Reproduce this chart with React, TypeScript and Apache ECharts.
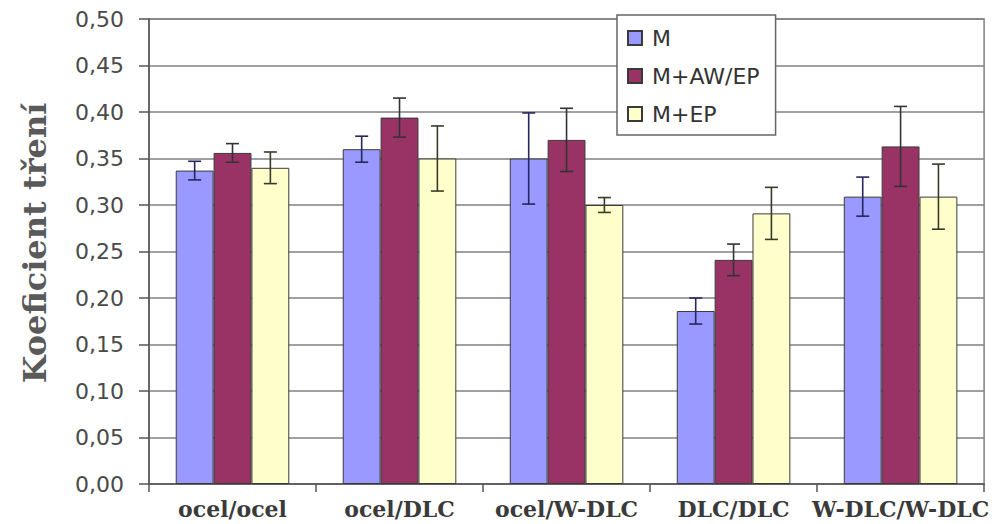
import React, { useEffect, useRef } from "react";
import * as echarts from "echarts";

const categories = ["ocel/ocel", "ocel/DLC", "ocel/W-DLC", "DLC/DLC", "W-DLC/W-DLC"];
const seriesNames = ["M", "M+AW/EP", "M+EP"];
const valuesM = [0.337, 0.360, 0.350, 0.186, 0.309];
const valuesAW = [0.356, 0.394, 0.370, 0.241, 0.363];
const valuesEP = [0.340, 0.350, 0.300, 0.291, 0.309];
const errM = [0.010, 0.014, 0.049, 0.014, 0.021];
const errAW = [0.010, 0.021, 0.034, 0.017, 0.043];
const errEP = [0.017, 0.035, 0.008, 0.028, 0.035];
const yTicks = [0, 0.05, 0.1, 0.15, 0.2, 0.25, 0.3, 0.35, 0.4, 0.45, 0.5];

const colors = ["#9999FF", "#993366", "#FFFFCC"];
const errColors = ["#262660", "#333333", "#3a3a2a"];
const GAP = 0.32;

export default function App() {
  const ref = useRef<HTMLDivElement>(null);
  useEffect(() => {
    if (!ref.current) return;
    const chart = echarts.init(ref.current, null, { renderer: "svg" });
    const vals = [valuesM, valuesAW, valuesEP];
    const errs = [errM, errAW, errEP];
    const barSeries = seriesNames.map((name, i) => ({
      name,
      type: "bar",
      data: vals[i],
      barGap: "0%",
      barCategoryGap: GAP * 100 + "%",
      itemStyle: { color: colors[i], borderColor: "#3a3a3a", borderWidth: 1 },
    }));
    const errSeries = seriesNames.map((name, i) => ({
      name: "err-" + name,
      type: "custom",
      z: 5,
      encode: { x: 0, y: 1 },
      data: vals[i].map((v, k) => [k, v, errs[i][k]]),
      renderItem: (params: any, api: any) => {
        const cat = api.value(0);
        const v = api.value(1);
        const e = api.value(2);
        const c = api.coord([cat, v]);
        const catW = api.size([1, 0])[0];
        const barW = (catW * (1 - GAP)) / 3;
        const x = c[0] + (i - 1) * barW;
        const top = api.coord([cat, v + e])[1];
        const bot = api.coord([cat, v - e])[1];
        const half = 6.5;
        const st = { stroke: errColors[i], lineWidth: 1.6 };
        return {
          type: "group",
          children: [
            { type: "line", shape: { x1: x, y1: top, x2: x, y2: bot }, style: st },
            { type: "line", shape: { x1: x - half, y1: top, x2: x + half, y2: top }, style: st },
            { type: "line", shape: { x1: x - half, y1: bot, x2: x + half, y2: bot }, style: st },
          ],
        };
      },
    }));
    chart.setOption({
      animation: false,
      backgroundColor: "#ffffff",
      grid: {
        left: 149,
        right: 5,
        top: 19,
        bottom: 40,
        show: true,
        borderColor: "#808080",
        borderWidth: 1.5,
      },
      legend: {
        data: seriesNames,
        orient: "vertical",
        left: 617,
        top: 15,
        backgroundColor: "#ffffff",
        borderColor: "#666666",
        borderWidth: 1.5,
        padding: [12, 16, 10, 10],
        itemGap: 16,
        itemWidth: 14,
        itemHeight: 14,
        icon: "rect",
        textStyle: { fontFamily: "DejaVu Sans", fontSize: 22, color: "#333333", padding: [0, 0, 0, 5] },
      },
      xAxis: {
        type: "category",
        data: categories,
        axisLine: { lineStyle: { color: "#555555", width: 1.5 } },
        axisTick: { show: true, length: 8, lineStyle: { color: "#555555", width: 1.5 } },
        axisLabel: {
          interval: 0,
          margin: 14,
          fontFamily: "DejaVu Serif",
          fontWeight: "bold",
          fontSize: 22,
          color: "#3a3a3a",
        },
      },
      yAxis: {
        type: "value",
        min: yTicks[0],
        max: yTicks[yTicks.length - 1],
        interval: 0.05,
        axisLine: { show: true, lineStyle: { color: "#555555", width: 1.5 } },
        axisTick: { show: true, length: 10, lineStyle: { color: "#555555", width: 1.5 } },
        axisLabel: {
          margin: 25,
          fontFamily: "DejaVu Sans",
          fontSize: 22,
          color: "#4a4a4a",
          formatter: (v: number) => v.toFixed(2).replace(".", ","),
        },
        splitLine: { lineStyle: { color: "#808080", width: 1.5 } },
      },
      graphic: [
        {
          type: "text",
          x: 35,
          y: 243,
          rotation: Math.PI / 2,
          style: {
            text: "Koeficient tření",
            fontFamily: "DejaVu Serif",
            fontWeight: "bold",
            fontSize: 32,
            fill: "#5a5a5a",
            textAlign: "center",
            textVerticalAlign: "middle",
          },
        },
      ],
      series: [...barSeries, ...errSeries],
    });
    return () => chart.dispose();
  }, []);
  return (
    <div
      ref={ref}
      style={{ position: "fixed", left: 0, top: 0, width: 992, height: 524 }}
    />
  );
}
